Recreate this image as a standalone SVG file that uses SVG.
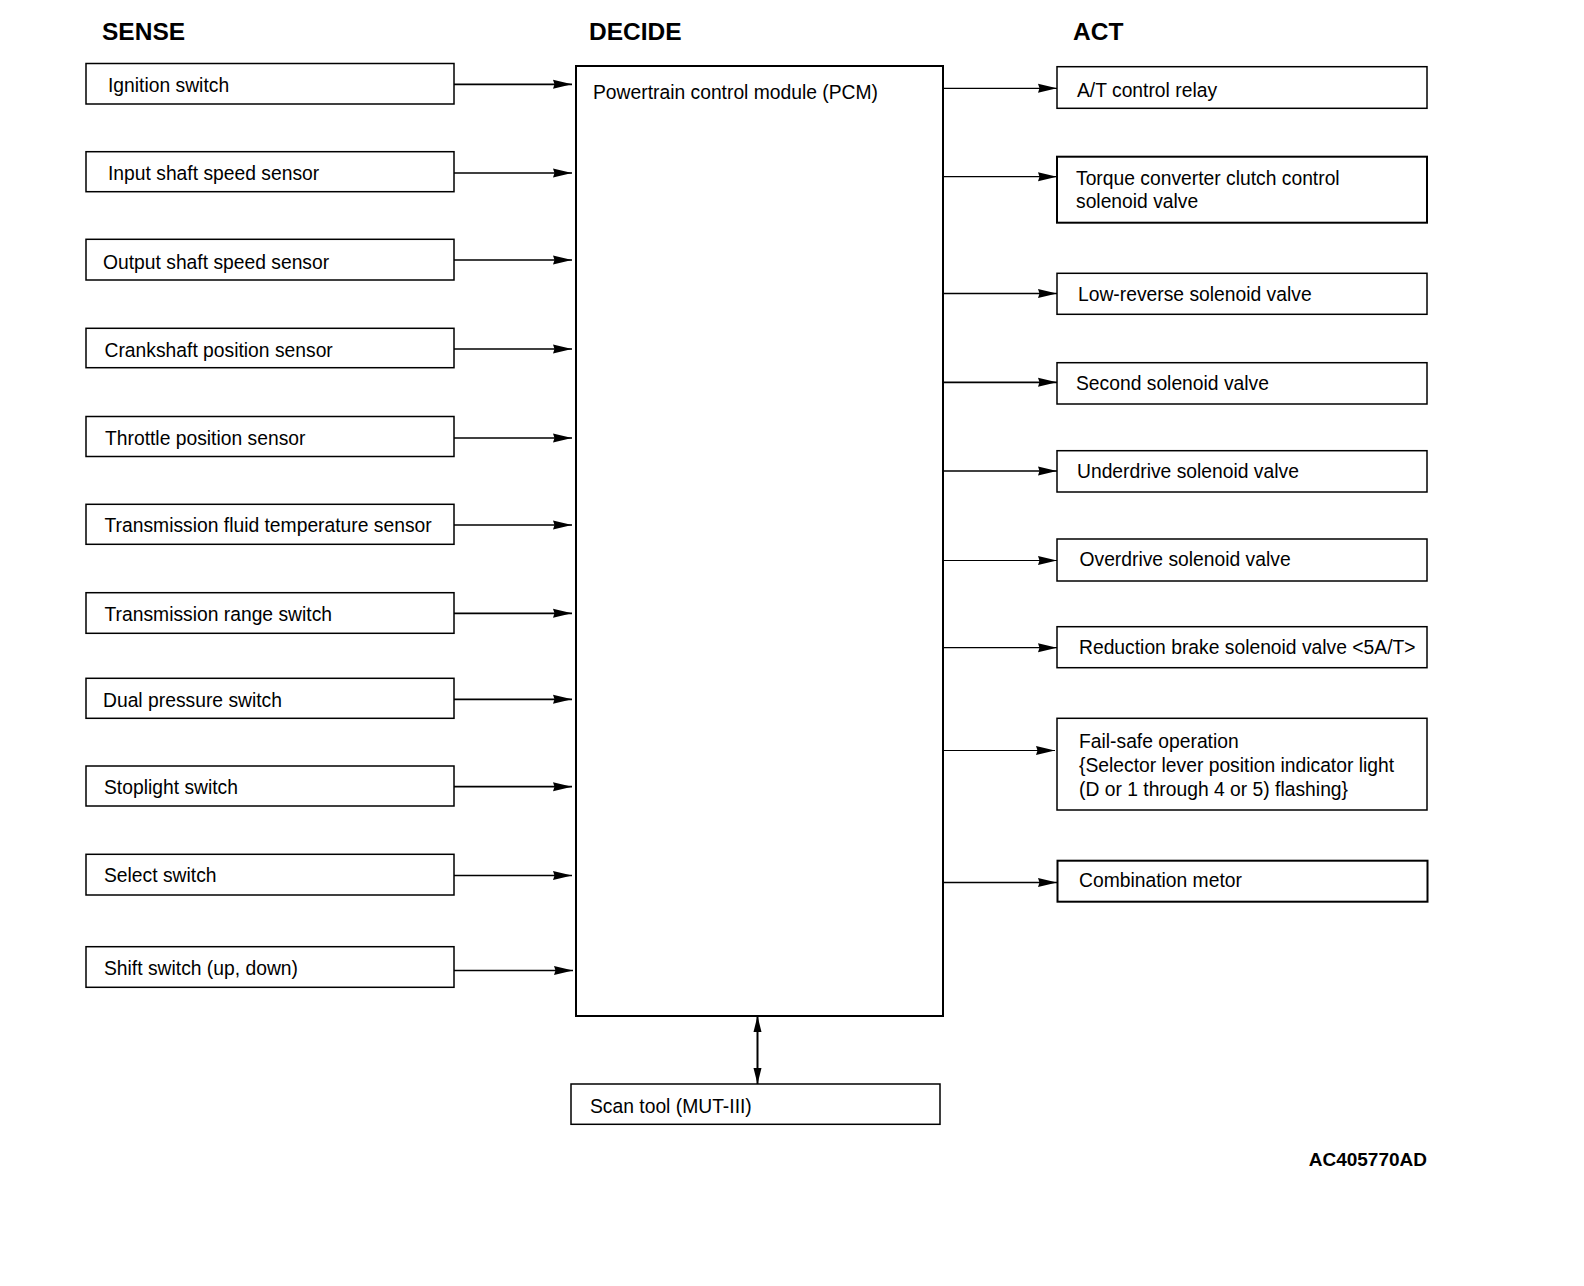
<svg xmlns="http://www.w3.org/2000/svg" width="1584" height="1286" viewBox="0 0 1584 1286">
<defs>
<marker id="ah" markerUnits="userSpaceOnUse" markerWidth="19" markerHeight="10" refX="19" refY="5" orient="auto-start-reverse">
<path d="M0,0.5 L19,5 L0,9.5 L1.5,5 Z" fill="#000"/>
</marker>
<marker id="av" markerUnits="userSpaceOnUse" markerWidth="16" markerHeight="9" refX="16" refY="4.5" orient="auto-start-reverse">
<path d="M0,0.5 L16,4.5 L0,8.5 Z" fill="#000"/>
</marker>
</defs>
<style>
.bx{fill:#fff;stroke:#000;stroke-width:1.5}
.bx2{fill:#fff;stroke:#000;stroke-width:2}
.t{font-family:"Liberation Sans",Arial,Helvetica,sans-serif;font-size:19.3px;fill:#000}
.h{font-family:"Liberation Sans",Arial,Helvetica,sans-serif;font-size:24.5px;font-weight:bold;fill:#000}
.id{font-family:"Liberation Sans",Arial,Helvetica,sans-serif;font-size:19px;font-weight:bold;fill:#000}
.c{stroke:#000;stroke-width:1.7;fill:none;marker-end:url(#ah)}
.ct{stroke:#000;stroke-width:1.2;fill:none;marker-end:url(#ah)}
</style>
<rect width="1584" height="1286" fill="#fff"/>
<g id="headers">
<text class="h" x="102" y="40">SENSE</text>
<text class="h" x="589" y="40">DECIDE</text>
<text class="h" x="1073" y="40">ACT</text>
</g>
<g id="connectors">
<line class="c" x1="454" y1="84.3" x2="572" y2="84.3"/>
<line class="c" x1="454" y1="173" x2="572" y2="173"/>
<line class="c" x1="454" y1="260" x2="572" y2="260"/>
<line class="c" x1="454" y1="349" x2="572" y2="349"/>
<line class="c" x1="454" y1="438" x2="572" y2="438"/>
<line class="c" x1="454" y1="525" x2="572" y2="525"/>
<line class="c" x1="454" y1="613.3" x2="572" y2="613.3"/>
<line class="c" x1="454" y1="699.3" x2="572" y2="699.3"/>
<line class="c" x1="454" y1="786.7" x2="572" y2="786.7"/>
<line class="c" x1="454" y1="875.5" x2="572" y2="875.5"/>
<line class="c" x1="454" y1="970.5" x2="573" y2="970.5"/>
<line class="ct" x1="943" y1="88.3" x2="1057" y2="88.3"/>
<line class="ct" x1="943" y1="176.7" x2="1057" y2="176.7"/>
<line class="c" x1="943" y1="293.5" x2="1057" y2="293.5"/>
<line class="c" x1="943" y1="382.3" x2="1057" y2="382.3"/>
<line class="c" x1="943" y1="471" x2="1057" y2="471"/>
<line class="ct" x1="943" y1="560.5" x2="1057" y2="560.5"/>
<line class="ct" x1="943" y1="647.7" x2="1057" y2="647.7"/>
<line class="ct" x1="943" y1="750.5" x2="1055" y2="750.5"/>
<line class="c" x1="943" y1="882.5" x2="1057" y2="882.5"/>
<line x1="757.5" y1="1016" x2="757.5" y2="1084" stroke="#000" stroke-width="2" marker-start="url(#av)" marker-end="url(#av)"/>
</g>
<g id="ignition-switch"><rect class="bx" x="86" y="63.5" width="368" height="40.5"/><text class="t" x="108" y="91.7">Ignition switch</text></g>
<g id="input-shaft-speed-sensor"><rect class="bx" x="86" y="151.7" width="368" height="40"/><text class="t" x="108" y="179.7">Input shaft speed sensor</text></g>
<g id="output-shaft-speed-sensor"><rect class="bx" x="86" y="239.3" width="368" height="40.7"/><text class="t" x="103" y="268.5">Output shaft speed sensor</text></g>
<g id="crankshaft-position-sensor"><rect class="bx" x="86" y="328.3" width="368" height="39.4"/><text class="t" x="104.5" y="356.5">Crankshaft position sensor</text></g>
<g id="throttle-position-sensor"><rect class="bx" x="86" y="416.5" width="368" height="40"/><text class="t" x="105" y="444.5">Throttle position sensor</text></g>
<g id="transmission-fluid-temperature-sensor"><rect class="bx" x="86" y="504.3" width="368" height="40"/><text class="t" x="104.5" y="532.3">Transmission fluid temperature sensor</text></g>
<g id="transmission-range-switch"><rect class="bx" x="86" y="592.7" width="368" height="40.6"/><text class="t" x="104.5" y="620.5">Transmission range switch</text></g>
<g id="dual-pressure-switch"><rect class="bx" x="86" y="678.3" width="368" height="40"/><text class="t" x="103" y="706.5">Dual pressure switch</text></g>
<g id="stoplight-switch"><rect class="bx" x="86" y="766" width="368" height="40"/><text class="t" x="104" y="794">Stoplight switch</text></g>
<g id="select-switch"><rect class="bx" x="86" y="854.3" width="368" height="40.7"/><text class="t" x="104" y="881.7">Select switch</text></g>
<g id="shift-switch"><rect class="bx" x="86" y="946.7" width="368" height="40.6"/><text class="t" x="104" y="975">Shift switch (up, down)</text></g>
<g id="pcm"><rect class="bx2" x="576" y="66" width="367" height="950"/><text class="t" x="593" y="99">Powertrain control module (PCM)</text></g>
<g id="scan-tool"><rect class="bx" x="571" y="1084" width="369" height="40.3"/><text class="t" x="590" y="1112.5">Scan tool (MUT-III)</text></g>
<g id="at-control-relay"><rect class="bx" x="1057" y="66.7" width="370" height="41.6"/><text class="t" x="1077" y="96.5">A/T control relay</text></g>
<g id="tcc-solenoid-valve"><rect class="bx2" x="1057" y="156.7" width="370" height="66"/><text class="t" x="1076" y="184.5">Torque converter clutch control</text><text class="t" x="1076" y="207.8">solenoid valve</text></g>
<g id="low-reverse-solenoid-valve"><rect class="bx" x="1057" y="273.3" width="370" height="41"/><text class="t" x="1078" y="300.7">Low-reverse solenoid valve</text></g>
<g id="second-solenoid-valve"><rect class="bx" x="1057" y="362.7" width="370" height="41.3"/><text class="t" x="1076" y="389.5">Second solenoid valve</text></g>
<g id="underdrive-solenoid-valve"><rect class="bx" x="1057" y="450.7" width="370" height="41.3"/><text class="t" x="1077" y="478">Underdrive solenoid valve</text></g>
<g id="overdrive-solenoid-valve"><rect class="bx" x="1057" y="539" width="370" height="42"/><text class="t" x="1079.5" y="566">Overdrive solenoid valve</text></g>
<g id="reduction-brake-solenoid-valve"><rect class="bx" x="1057" y="626.7" width="370" height="41"/><text class="t" x="1079" y="653.5">Reduction brake solenoid valve &lt;5A/T&gt;</text></g>
<g id="fail-safe-operation"><rect class="bx" x="1057" y="718.3" width="370" height="91.7"/><text class="t" x="1079" y="747.5">Fail-safe operation</text><text class="t" x="1079" y="771.5">{Selector lever position indicator light</text><text class="t" x="1079" y="795.5">(D or 1 through 4 or 5) flashing}</text></g>
<g id="combination-meter"><rect class="bx2" x="1057.5" y="860.7" width="370" height="41"/><text class="t" x="1079" y="887">Combination metor</text></g>
<text class="id" x="1427" y="1166" text-anchor="end">AC405770AD</text>
</svg>
